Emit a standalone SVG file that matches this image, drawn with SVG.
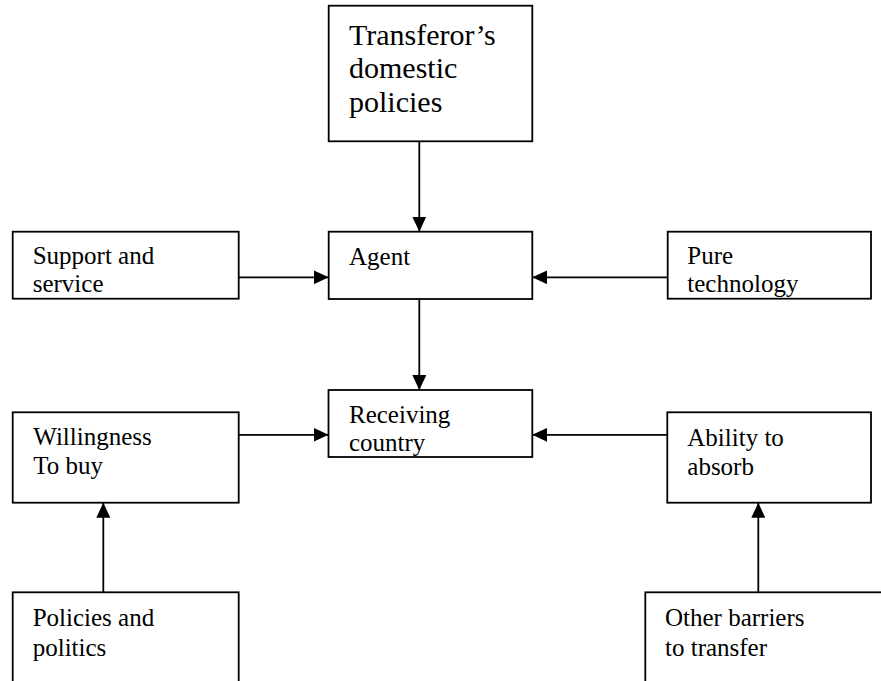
<svg xmlns="http://www.w3.org/2000/svg" width="881" height="681" viewBox="0 0 881 681">
  <style>
    .box { fill: #ffffff; stroke: #000000; stroke-width: 1.8; }
    .lbl { font-family: "Liberation Serif", "Times New Roman", serif; font-size: 25px; fill: #000000; }
    .title { font-size: 30px; }
    .edge { fill: none; stroke: #000000; stroke-width: 1.8; marker-end: url(#arrow); }
  </style>
  <defs>
    <marker id="arrow" markerUnits="userSpaceOnUse" markerWidth="15" markerHeight="14" refX="15" refY="7" orient="auto">
      <path d="M0,0 L15,7 L0,14 Z" fill="#000000"/>
    </marker>
  </defs>
  <rect width="881" height="681" fill="#ffffff"/>

  <g id="connectors">
    <line class="edge" x1="419.3" y1="141.3" x2="419.3" y2="231.7"/>
    <line class="edge" x1="238.7" y1="277.3" x2="328.7" y2="277.3"/>
    <line class="edge" x1="667.7" y1="277.3" x2="532.3" y2="277.3"/>
    <line class="edge" x1="419.3" y1="299" x2="419.3" y2="390"/>
    <line class="edge" x1="238.7" y1="434.8" x2="328.5" y2="434.8"/>
    <line class="edge" x1="667.5" y1="434.8" x2="532.3" y2="434.8"/>
    <line class="edge" x1="103.3" y1="592.3" x2="103.3" y2="502.7"/>
    <line class="edge" x1="758.3" y1="592.3" x2="758.3" y2="502.7"/>
  </g>

  <g id="transferor">
    <rect class="box" x="328.7" y="5.7" width="203.6" height="135.6"/>
    <text class="lbl title" x="349" y="44.5">Transferor’s</text>
    <text class="lbl title" x="349" y="78">domestic</text>
    <text class="lbl title" x="349" y="111.5">policies</text>
  </g>

  <g id="support">
    <rect class="box" x="12.7" y="231.7" width="226" height="67"/>
    <text class="lbl" x="32.7" y="264">Support and</text>
    <text class="lbl" x="32.7" y="292">service</text>
  </g>

  <g id="agent">
    <rect class="box" x="328.7" y="231.7" width="203.6" height="67.3"/>
    <text class="lbl" x="349" y="265">Agent</text>
  </g>

  <g id="pure-technology">
    <rect class="box" x="667.7" y="231.7" width="203.3" height="67"/>
    <text class="lbl" x="687.3" y="264">Pure</text>
    <text class="lbl" x="687.3" y="292">technology</text>
  </g>

  <g id="receiving">
    <rect class="box" x="328.5" y="390" width="203.8" height="67"/>
    <text class="lbl" x="349" y="422.7">Receiving</text>
    <text class="lbl" x="349" y="451">country</text>
  </g>

  <g id="willingness">
    <rect class="box" x="12.7" y="412.3" width="226" height="90.4"/>
    <text class="lbl" x="33.3" y="445">Willingness</text>
    <text class="lbl" x="33.3" y="474">To buy</text>
  </g>

  <g id="ability">
    <rect class="box" x="667.3" y="412.3" width="203.7" height="90.4"/>
    <text class="lbl" x="687.3" y="446">Ability to</text>
    <text class="lbl" x="687.3" y="475">absorb</text>
  </g>

  <g id="policies">
    <rect class="box" x="12.7" y="592.3" width="226" height="120"/>
    <text class="lbl" x="32.7" y="626">Policies and</text>
    <text class="lbl" x="32.7" y="656">politics</text>
  </g>

  <g id="barriers">
    <rect class="box" x="645.3" y="592.3" width="260" height="120"/>
    <text class="lbl" x="665" y="626">Other barriers</text>
    <text class="lbl" x="665" y="656">to transfer</text>
  </g>
</svg>
